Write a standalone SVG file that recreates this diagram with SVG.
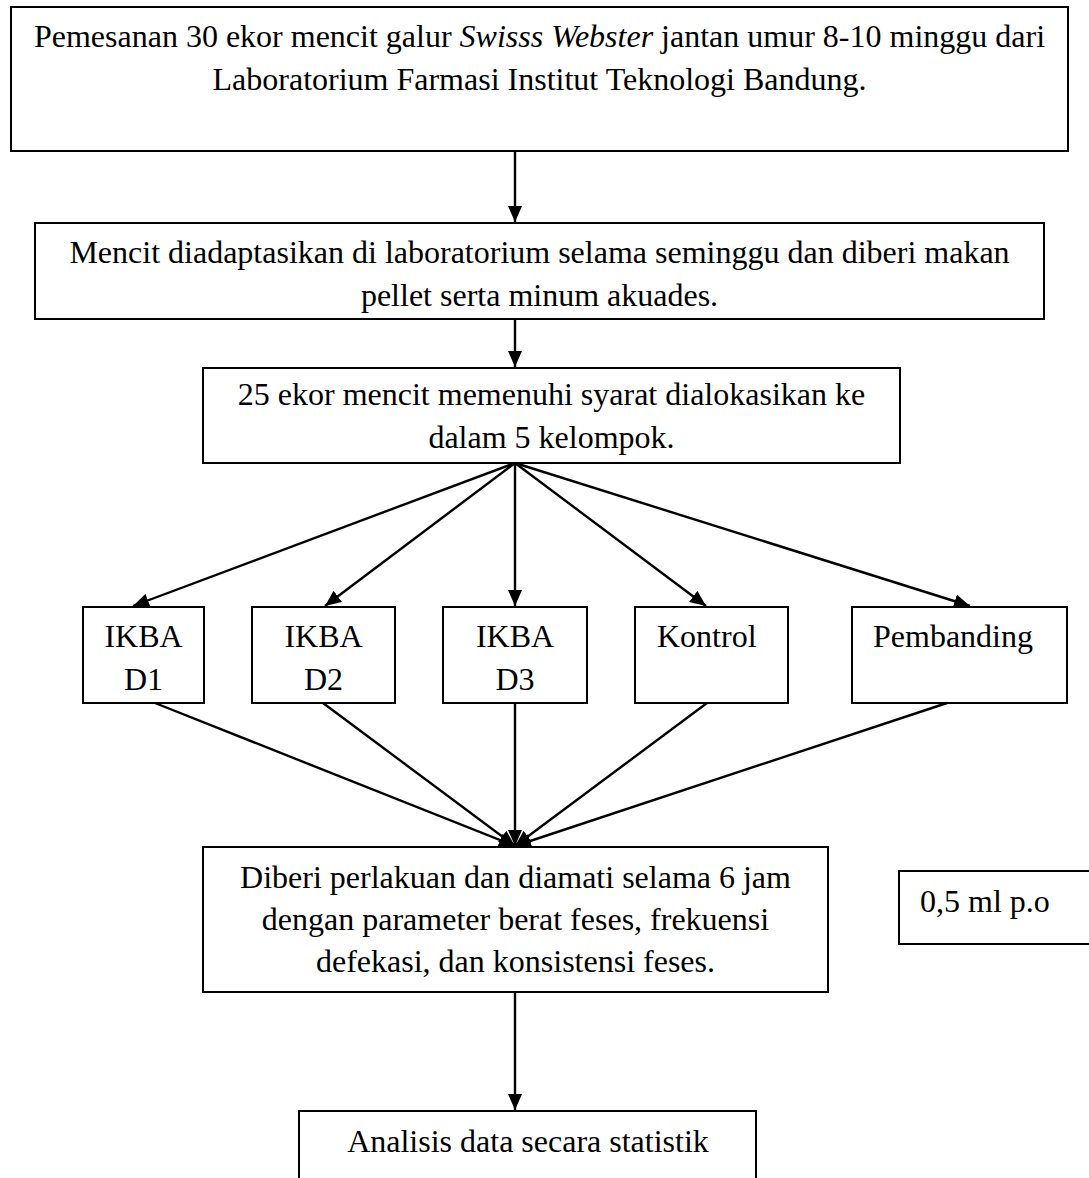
<svg xmlns="http://www.w3.org/2000/svg" width="1089" height="1178" viewBox="0 0 1089 1178">
<style>
  .box { fill: #fff; stroke: #000; stroke-width: 2; }
  .t { font-family: "Liberation Serif", "Times New Roman", serif; font-size: 32px; fill: #000; }
  .c { text-anchor: middle; }
  .conn line { stroke: #000; stroke-width: 2.4; marker-end: url(#ah); }
</style>
<defs>
  <marker id="ah" markerUnits="userSpaceOnUse" markerWidth="16" markerHeight="14" refX="16" refY="7" orient="auto">
    <path d="M0,0 L16,7 L0,14 z" fill="#000"/>
  </marker>
</defs>
<rect width="1089" height="1178" fill="#fff"/>

<g id="n1">
  <rect class="box" x="11" y="7" width="1057" height="144"/>
  <text class="t c" x="539.5" y="47">Pemesanan 30 ekor mencit galur <tspan font-style="italic">Swisss Webster</tspan> jantan umur 8-10 minggu dari</text>
  <text class="t c" x="539.5" y="90">Laboratorium Farmasi Institut Teknologi Bandung.</text>
</g>

<g id="n2">
  <rect class="box" x="35" y="223" width="1009" height="96"/>
  <text class="t c" x="539.5" y="263">Mencit diadaptasikan di laboratorium selama seminggu dan diberi makan</text>
  <text class="t c" x="539.5" y="306">pellet serta minum akuades.</text>
</g>

<g id="n3">
  <rect class="box" x="203" y="368" width="697" height="95"/>
  <text class="t c" x="551.5" y="405">25 ekor mencit memenuhi syarat dialokasikan ke</text>
  <text class="t c" x="551.5" y="448">dalam 5 kelompok.</text>
</g>

<g id="d1">
  <rect class="box" x="83" y="607" width="121" height="96"/>
  <text class="t c" x="143.5" y="647">IKBA</text>
  <text class="t c" x="143.5" y="690">D1</text>
</g>

<g id="d2">
  <rect class="box" x="252" y="607" width="143" height="96"/>
  <text class="t c" x="323.5" y="647">IKBA</text>
  <text class="t c" x="323.5" y="690">D2</text>
</g>

<g id="d3">
  <rect class="box" x="443" y="607" width="144" height="96"/>
  <text class="t c" x="515" y="647">IKBA</text>
  <text class="t c" x="515" y="690">D3</text>
</g>

<g id="kontrol">
  <rect class="box" x="635" y="607" width="153" height="96"/>
  <text class="t" x="657" y="647">Kontrol</text>
</g>

<g id="pembanding">
  <rect class="box" x="852" y="607" width="215" height="96"/>
  <text class="t" x="873" y="647">Pembanding</text>
</g>

<g id="n4">
  <rect class="box" x="203" y="847" width="625" height="145"/>
  <text class="t c" x="515.5" y="888">Diberi perlakuan dan diamati selama 6 jam</text>
  <text class="t c" x="515.5" y="930">dengan parameter berat feses, frekuensi</text>
  <text class="t c" x="515.5" y="972">defekasi, dan konsistensi feses.</text>
</g>

<g id="dose">
  <rect class="box" x="899" y="871" width="200" height="73"/>
  <text class="t" x="920" y="912">0,5 ml p.o</text>
</g>

<g id="n5">
  <rect class="box" x="299" y="1111" width="457" height="90"/>
  <text class="t c" x="528" y="1152">Analisis data secara statistik</text>
</g>

<g id="connectors" class="conn">
  <line x1="515" y1="151" x2="515" y2="222"/>
  <line x1="515" y1="319" x2="515" y2="367"/>
  <line x1="515" y1="463" x2="133" y2="606"/>
  <line x1="515" y1="463" x2="325" y2="606"/>
  <line x1="515" y1="463" x2="515" y2="606"/>
  <line x1="515" y1="463" x2="706" y2="606"/>
  <line x1="515" y1="463" x2="970" y2="606"/>
  <line x1="155" y1="703" x2="515" y2="846"/>
  <line x1="323" y1="703" x2="515" y2="846"/>
  <line x1="515" y1="703" x2="515" y2="846"/>
  <line x1="707" y1="703" x2="515" y2="846"/>
  <line x1="947" y1="703" x2="515" y2="846"/>
  <line x1="515" y1="992" x2="515" y2="1110"/>
</g>
</svg>
